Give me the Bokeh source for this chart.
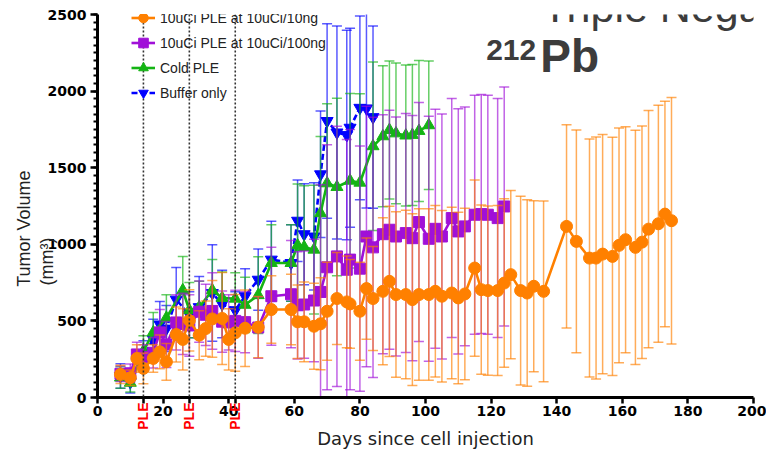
import math
from bokeh.plotting import figure
from bokeh.models import (Span, Label, Legend, LegendItem, FixedTicker, LinearAxis,
                          SingleIntervalTicker, Range1d, ColumnDataSource)
from bokeh.embed import file_html
from bokeh.resources import INLINE

# ---------------- data ----------------
ple_days = [14, 28, 42]
x_ticks = [0, 20, 40, 60, 80, 100, 120, 140, 160, 180, 200]

orange_days = [7, 10, 12, 14, 17, 19, 21, 24, 26, 28, 31, 33, 35, 38, 40, 42, 45, 49, 53, 59,
               61, 63, 66, 68, 70, 73, 76, 77, 80, 82, 84, 87, 89, 91, 94, 96, 98, 101, 103, 105,
               108, 110, 112, 115, 117, 119, 122, 124, 126, 129, 131, 133, 136, 143, 146, 150, 152, 154, 157, 159,
               161, 164, 166, 168, 171, 173, 175]
orange_mean = [151, 129, 255, 190, 255, 298, 233, 411, 379, 503, 407, 450, 513, 516, 379, 422, 452, 459, 574, 574,
               494, 494, 465, 481, 563, 646, 624, 611, 563, 711, 646, 693, 758, 672, 672, 639, 672, 672, 693, 661,
               682, 650, 676, 845, 704, 698, 698, 747, 802, 698, 682, 726, 693, 1117, 1019, 910, 910, 936, 921, 993,
               1030, 980, 1014, 1099, 1134, 1197, 1154]
orange_sd = [60, 50, 90, 100, 90, 110, 120, 180, 200, 200, 160, 180, 250, 300, 200, 250, 250, 200, 220, 230,
             240, 260, 280, 300, 320, 300, 300, 290, 320, 330, 340, 480, 490, 540, 550, 560, 560, 560, 560, 560,
             560, 560, 560, 575, 552, 552, 555, 550, 549, 616, 608, 558, 590, 663, 727, 777, 790, 781, 777, 766,
             738, 764, 759, 775, 773, 736, 804]

purple_days = [7, 10, 12, 14, 17, 19, 21, 24, 26, 28, 31, 33, 35, 38, 40, 42, 45, 49, 53, 59,
               61, 63, 66, 68, 70, 73, 76, 77, 80, 82, 84, 87, 89, 91, 94, 96, 98, 101, 103, 105,
               108, 110, 112, 115, 117, 119, 122, 124]
purple_mean = [155, 158, 281, 265, 292, 425, 346, 490, 480, 470, 560, 540, 565, 495, 490, 500, 492, 457, 661, 674,
               602, 607, 633, 689, 850, 921, 834, 900, 841, 1051, 980, 1066, 1095, 1051, 1073, 1040, 1145, 1036, 1101, 1051,
               1171, 1084, 1117, 1193, 1197, 1193, 1171, 1247]
purple_sd = [50, 60, 80, 80, 100, 150, 150, 180, 200, 200, 200, 200, 250, 200, 180, 200, 200, 200, 320, 350,
             350, 350, 400, 700, 800, 850, 850, 850, 800, 850, 850, 780, 780, 780, 780, 800, 780, 800, 780, 800,
             780, 800, 780, 780, 780, 780, 780, 780]

green_days = [7, 10, 14, 17, 21, 26, 28, 31, 35, 38, 42, 45, 49, 53, 59, 61, 63, 66, 68, 70,
              73, 77, 80, 84, 87, 89, 91, 94, 96, 98, 101]
green_mean = [130, 96, 303, 425, 520, 700, 570, 589, 700, 650, 645, 605, 668, 878, 878, 993, 982, 965, 1203, 1398,
              1374, 1415, 1402, 1640, 1705, 1746, 1724, 1710, 1714, 1740, 1777]
green_sd = [70, 60, 100, 130, 150, 220, 180, 170, 200, 170, 170, 180, 250, 250, 250, 400, 400, 420, 500, 520,
            580, 570, 580, 550, 460, 450, 460, 460, 460, 460, 420]

blue_days = [7, 10, 14, 17, 19, 21, 24, 28, 31, 35, 38, 42, 45, 49, 53, 59, 61, 63, 66, 68,
             70, 73, 76, 77, 80, 82, 84]
blue_mean = [140, 100, 270, 380, 477, 450, 639, 540, 590, 682, 610, 570, 661, 769, 900, 878, 1154, 1066, 1051, 1457,
             1805, 1730, 1713, 1761, 1891, 1887, 1830]
blue_sd = [80, 70, 100, 130, 150, 150, 210, 150, 200, 315, 220, 120, 180, 200, 250, 250, 266, 330, 350, 413,
           635, 695, 684, 650, 600, 650, 595]

series_names = ["10uCi PLE at 10uCi/10ng", "10uCi PLE at 10uCi/100ng", "Cold PLE", "Buffer only"]
y_title_lines = ["Tumor Volume", "(mm\u00b3)"]

# ---------------- figure ----------------
p = figure(width=766, height=449, output_backend="svg", toolbar_location=None,
           x_range=Range1d(0, 200), y_range=Range1d(0, 2500),
           min_border_left=97, min_border_right=13, min_border_top=14, min_border_bottom=52)
p.frame_width = 656
p.frame_height = 383
p.outline_line_color = None
p.xgrid.grid_line_color = None
p.ygrid.grid_line_color = None
p.background_fill_color = "white"
p.border_fill_color = "white"

# main x axis
xa = p.xaxis[0]
xa.ticker = FixedTicker(ticks=x_ticks, minor_ticks=ple_days)
xa.axis_line_width = 3
xa.major_tick_line_width = 2.5
xa.minor_tick_line_width = 2.5
xa.major_tick_out = 6
xa.major_tick_in = 0
xa.minor_tick_out = 6
xa.minor_tick_in = 0
xa.major_label_text_font = "DejaVu Sans"
xa.major_label_text_font_style = "bold"
xa.major_label_text_font_size = "14px"
xa.major_label_text_color = "black"
xa.major_label_standoff = 2

# second x axis: PLE labels + axis title
ple_axis = LinearAxis(ticker=FixedTicker(ticks=ple_days),
                      major_label_overrides={d: "PLE" for d in ple_days},
                      major_label_orientation=math.pi / 2,
                      axis_line_color=None, major_tick_line_color=None,
                      minor_tick_line_color=None, major_tick_out=0, major_tick_in=0,
                      major_label_standoff=-16,
                      major_label_text_font="Liberation Sans",
                      major_label_text_font_style="bold",
                      major_label_text_font_size="14px",
                      major_label_text_color="#FF0000",
                      axis_label="Days since cell injection",
                      axis_label_text_font="DejaVu Sans",
                      axis_label_text_font_style="normal",
                      axis_label_text_font_size="18px",
                      axis_label_text_color="#222222",
                      axis_label_standoff=-5)
p.add_layout(ple_axis, "below")

# main y axis
ya = p.yaxis[0]
ya.ticker = SingleIntervalTicker(interval=500, num_minor_ticks=10)
ya.axis_line_width = 3
ya.major_tick_line_width = 2.5
ya.minor_tick_line_width = 2
ya.major_tick_out = 7
ya.major_tick_in = 0
ya.minor_tick_out = 4
ya.minor_tick_in = 0
ya.major_label_text_font = "DejaVu Sans"
ya.major_label_text_font_style = "bold"
ya.major_label_text_font_size = "14px"
ya.major_label_text_color = "black"
ya.major_label_standoff = 4

# y title: two extra left axes, each carrying one rotated line
for pos, txt, stand in [(1044, y_title_lines[1], -3), (1482, y_title_lines[0], 0)]:
    ax = LinearAxis(ticker=FixedTicker(ticks=[pos]),
                    major_label_overrides={pos: txt},
                    major_label_orientation=math.pi / 2,
                    axis_line_color=None, major_tick_line_color=None,
                    minor_tick_line_color=None, major_tick_out=0, major_tick_in=0,
                    major_label_standoff=stand,
                    major_label_text_font="Liberation Sans",
                    major_label_text_font_size="18px",
                    major_label_text_color="#222222")
    p.add_layout(ax, "left")

# PLE dotted lines
for d in ple_days:
    p.add_layout(Span(location=d, dimension="height", line_color="#333333",
                      line_dash="2 2", line_width=1.6))

colors = ["#FF8000", "#A010D8", "#14B414", "#0000FF"]
markers = ["circle", "square", "triangle", "inverted_triangle"]
sizes = [12, 11, 12, 12]
dashes = ["solid", "solid", "solid", "6 3"]
all_days = [orange_days, purple_days, green_days, blue_days]
all_mean = [orange_mean, purple_mean, green_mean, blue_mean]
all_sd = [orange_sd, purple_sd, green_sd, blue_sd]

items = {}
for i in [3, 2, 1, 0]:
    d, m, s = all_days[i], all_mean[i], all_sd[i]
    src = ColumnDataSource(dict(x=d, y=m,
                                lo=[a - b for a, b in zip(m, s)],
                                hi=[a + b for a, b in zip(m, s)]))
    p.segment(x0="x", y0="lo", x1="x", y1="hi", source=src,
              line_color=colors[i], line_alpha=0.65, line_width=1.5)
    p.scatter(x="x", y="hi", source=src, marker="dash", size=10,
              line_color=colors[i], line_alpha=0.65, line_width=1.5)
    p.scatter(x="x", y="lo", source=src, marker="dash", size=10,
              line_color=colors[i], line_alpha=0.65, line_width=1.5)
    ln = p.line(x="x", y="y", source=src, line_color=colors[i], line_width=2.6,
                line_dash=dashes[i])
    mk = p.scatter(x="x", y="y", source=src, marker=markers[i], size=sizes[i],
                   fill_color=colors[i], line_color=colors[i])
    items[i] = [ln, mk]

legend = Legend(items=[LegendItem(label=series_names[i], renderers=items[i]) for i in range(4)],
                location=(34, 292), orientation="vertical",
                glyph_width=24, glyph_height=25, spacing=0, padding=0, margin=0,
                label_standoff=5, label_height=25,
                label_text_font="Liberation Sans", label_text_font_size="14px",
                label_text_color="#222222", label_text_baseline="middle",
                border_line_alpha=0, background_fill_alpha=0)
p.add_layout(legend, "center")

# titles
p.add_layout(Label(x=118.5, y=2266, text="212", text_align="left", text_baseline="alphabetic",
                   text_font="Liberation Sans", text_font_style="bold",
                   text_font_size="30px", text_color="#3c3c3c"))
p.add_layout(Label(x=135, y=2232, text="Pb", text_align="left", text_baseline="alphabetic",
                   text_font="Liberation Sans", text_font_style="bold",
                   text_font_size="46px", text_color="#3c3c3c"))
p.add_layout(Label(x=135.5, y=2546, text="Triple Negative", text_align="left",
                   text_baseline="alphabetic",
                   text_font="Liberation Sans", text_font_size="43px", text_color="#3c3c3c"))

open("out.html", "w").write(file_html(p, INLINE))
